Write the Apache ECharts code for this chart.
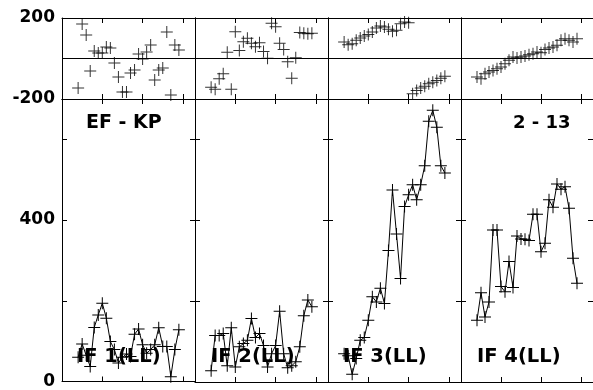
<!DOCTYPE html>
<html>
<head>
<meta charset="utf-8">
<script src="https://cdn.jsdelivr.net/npm/echarts@6/dist/echarts.min.js"></script>
<style>
html,body{margin:0;padding:0;background:#fff;}
#chart{width:593px;height:390px;}
</style>
</head>
<body>
<div id="chart"></div>
<script>
// x positions (sample index)
const xs = [4,5,6,7,8,9,10,11,12,13,14,15,16,17,18,19,20,21,22,23,24,25,26,27,28,29];

// phase panels (top row)
const phase1 = [-146,170,116,-62,37,27,27,57,52,-22,-91,-165,-165,-72,-57,22,-2,32,67,-106,-57,-47,131,-180,67,42];
const phase2 = [-142,-152,-100,-75,31,-152,132,39,83,100,75,58,78,34,1,174,157,75,45,-16,-98,4,128,125,122,125];
const phase3 = [82,68,73,90,101,111,118,131,151,161,156,144,134,139,172,180,177,-174,-158,-146,-137,-125,-117,-109,-98,-88];
const phase4 = [-91,-100,-75,-67,-59,-50,-42,-26,-9,8,3,8,12,19,24,32,29,45,52,57,65,90,98,90,82,98];

// amplitude panels (bottom row)
const amp1 = [60,93,65,37,134,165,194,157,99,79,46,60,68,62,117,130,91,70,79,91,133,87,87,12,79,128];
const amp2 = [28,115,115,120,40,134,37,87,95,103,157,110,120,90,37,70,90,175,70,35,40,50,87,164,203,186];
const amp3 = [70,65,19,58,103,110,153,211,198,232,194,325,475,366,256,434,463,488,451,488,535,645,672,630,535,517];
const amp4 = [153,221,161,198,376,376,236,223,298,234,361,354,353,350,415,415,322,343,451,432,490,477,483,430,306,244];

// axis ranges and tick labels
const xRange = [0, 33, 10];
const phaseRange = [-200, 200, 200];
const ampRange = [0, 700, 200];
const phaseLabels = [200, -200];
const ampLabels = [0, 400];

// panel texts
const panelLabels = ['IF 1(LL)', 'IF 2(LL)', 'IF 3(LL)', 'IF 4(LL)'];
const titleLeft = 'EF - KP';
const titleRight = '2 - 13';

const phases = [phase1, phase2, phase3, phase4];
const amps = [amp1, amp2, amp3, amp4];

const CROSS = 'path://M0,5.5H12V6.5H0Z M5.5,0H6.5V12H5.5Z';
const FONT = '"DejaVu Sans", "Liberation Sans", Arial, sans-serif';

const grids = [], xAxes = [], yAxes = [], series = [];
function mkLine() { return {show: true, onZero: false, lineStyle: {color: '#000', width: 1}}; }
function mkTick() { return {show: true, inside: true, length: 5, lineStyle: {color: '#000', width: 1}}; }

for (let p = 0; p < 4; p++) {
  for (let r = 0; r < 2; r++) {
    const g = grids.length;
    grids.push({
      left: 62 + 133 * p,
      top: r === 0 ? 18 : 99,
      width: 133,
      height: r === 0 ? 81 : 283
    });
    const xi = xAxes.length;
    ['bottom', 'top'].forEach(pos => {
      xAxes.push({
        gridIndex: g, type: 'value', position: pos,
        min: xRange[0], max: xRange[1], interval: xRange[2],
        axisLine: mkLine(), axisTick: mkTick(),
        axisLabel: {show: false}, splitLine: {show: false}
      });
    });
    const yi = yAxes.length;
    const rng = r === 0 ? phaseRange : ampRange;
    const lbls = r === 0 ? phaseLabels : ampLabels;
    yAxes.push({
      gridIndex: g, type: 'value', position: 'left',
      min: rng[0], max: rng[1], interval: rng[2],
      axisLine: mkLine(), axisTick: mkTick(),
      axisLabel: {
        show: p === 0, inside: false, margin: 7, color: '#000', fontWeight: 'bold',
        fontSize: 17, fontFamily: FONT,
        formatter: v => (lbls.indexOf(v) >= 0 ? String(v) : '')
      },
      splitLine: {show: r === 0, lineStyle: {color: '#000', width: 1}}
    });
    yAxes.push({
      gridIndex: g, type: 'value', position: 'right',
      min: rng[0], max: rng[1], interval: rng[2],
      axisLine: mkLine(), axisTick: mkTick(),
      axisLabel: {show: false}, splitLine: {show: false}
    });
    const vals = r === 0 ? phases[p] : amps[p];
    const data = xs.map((x, i) => [x, vals[i]]);
    series.push({
      type: r === 0 ? 'scatter' : 'line',
      xAxisIndex: xi, yAxisIndex: yi,
      data: data,
      symbol: CROSS, symbolSize: 12,
      showSymbol: true, showAllSymbol: true,
      itemStyle: {color: '#000'},
      lineStyle: {color: '#000', width: 1},
      emphasis: {disabled: true},
      silent: true
    });
  }
}

function txt(s, x, y, size) {
  return {
    type: 'text', x: x, y: y, z: 100,
    style: {
      text: s, fill: '#000',
      font: 'bold ' + size + 'px ' + FONT,
      align: 'left', textAlign: 'left',
      verticalAlign: 'middle', textVerticalAlign: 'middle'
    }
  };
}
const graphics = [txt(titleLeft, 86, 123, 19), txt(titleRight, 513, 123, 18)];
const labelX = [77, 211, 343, 477];
panelLabels.forEach((s, i) => graphics.push(txt(s, labelX[i], 357, 19.5)));

const chart = echarts.init(document.getElementById('chart'), null, {renderer: 'canvas'});
chart.setOption({
  animation: false,
  backgroundColor: '#fff',
  grid: grids,
  xAxis: xAxes,
  yAxis: yAxes,
  series: series,
  graphic: graphics
});
</script>
</body>
</html>
